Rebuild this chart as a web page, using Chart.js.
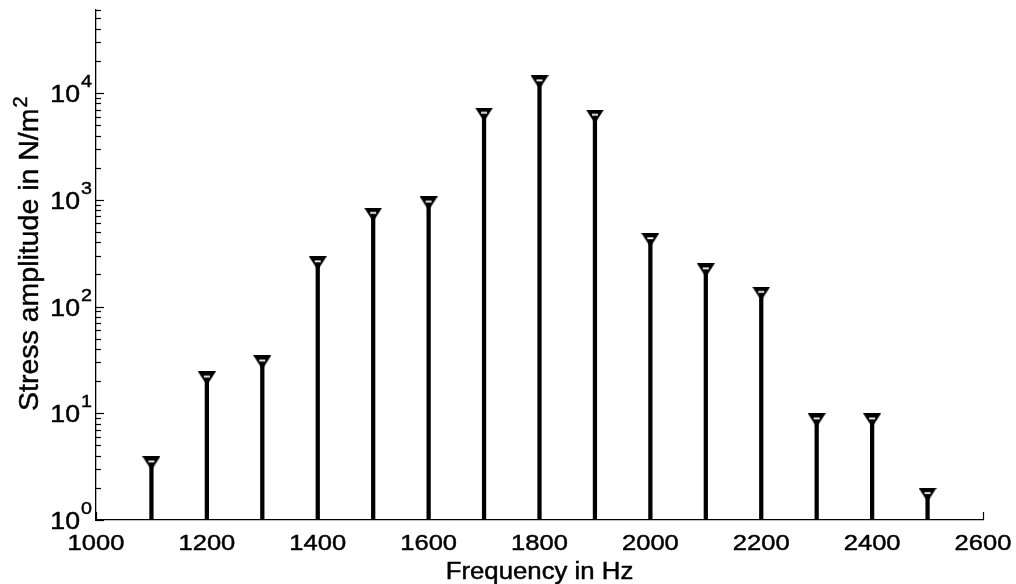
<!DOCTYPE html>
<html>
<head>
<meta charset="utf-8">
<title>Stress amplitude spectrum</title>
<script src="https://cdn.jsdelivr.net/npm/chart.js@4/dist/chart.umd.min.js"></script>
<style>
  html, body { margin: 0; padding: 0; background: #ffffff; }
  #wrap { width: 1016px; height: 584px; position: relative; }
</style>
</head>
<body>
<div id="wrap"><canvas id="chart" width="1016" height="584"></canvas></div>
<script>
// Stress amplitude (N/m^2) of each spectral line
const frequencies = [1100, 1200, 1300, 1400, 1500, 1600, 1700, 1800, 1900, 2000, 2100, 2200, 2300, 2400, 2500];
const amplitudes  = [3.4, 21.2, 30, 255, 726, 925, 6290, 12640, 6025, 420, 219, 132, 8.6, 8.6, 1.72];

// Axis ranges and tick values
const xMin = 1000, xMax = 2600;
const yMin = 1, yMax = 60000;
const xTicks = [1000, 1200, 1400, 1600, 1800, 2000, 2200, 2400, 2600];
const yExponents = [0, 1, 2, 3, 4];
const yMinorMultipliers = [2, 3, 4, 5, 6, 7, 8, 9];

const xTitle = 'Frequency in Hz';
const yTitle = 'Stress amplitude in N/m';
const yTitleSup = '2';

const FONT = '"Liberation Sans", Arial, Helvetica, sans-serif';
const STRETCH = 1.16;   // glyphs are drawn slightly wide

// Downward triangle marker with a small light slot near its top edge
function makeMarker() {
  const w = 18, h = 14;
  const c = document.createElement('canvas');
  c.width = w; c.height = h;
  const g = c.getContext('2d');
  g.fillStyle = '#000';
  g.beginPath();
  g.moveTo(0, 0); g.lineTo(w, 0); g.lineTo(w / 2, h); g.closePath();
  g.fill();
  g.fillStyle = '#fff';
  g.fillRect(6, 4.3, 6, 1.8);
  return c;
}

// Text slightly widened and thickened
function wideText(ctx, text, x, y, align, size, sx) {
  ctx.save();
  ctx.font = size + 'px ' + FONT;
  ctx.textBaseline = 'alphabetic';
  const w = ctx.measureText(text).width * sx;
  let left = x;
  if (align === 'center') left = x - w / 2;
  else if (align === 'right') left = x - w;
  ctx.translate(left, y);
  ctx.scale(sx, 1);
  ctx.textAlign = 'left';
  ctx.lineWidth = 0.45;
  ctx.fillText(text, 0, 0);
  ctx.strokeText(text, 0, 0);
  ctx.restore();
  return w;
}

// Inward tick marks, power-of-ten labels and axis titles
const axisDecor = {
  id: 'axisDecor',
  afterDraw(chart) {
    const ctx = chart.ctx;
    const xs = chart.scales.x, ys = chart.scales.y;
    const area = chart.chartArea;
    ctx.save();
    ctx.strokeStyle = '#000';
    ctx.fillStyle = '#000';

    // x ticks (pointing up into the plot) and labels
    xTicks.forEach(v => {
      const px = Math.round(xs.getPixelForValue(v)) + 0.5;
      ctx.lineWidth = 1.2;
      ctx.beginPath();
      ctx.moveTo(px, area.bottom);
      ctx.lineTo(px, area.bottom - 8);
      ctx.stroke();
      wideText(ctx, String(v), xs.getPixelForValue(v), 550, 'center', 22, STRETCH);
    });

    // y major ticks with 10^n labels
    yExponents.forEach(n => {
      const py = Math.round(ys.getPixelForValue(Math.pow(10, n))) + 0.5;
      ctx.lineWidth = 1.2;
      ctx.beginPath();
      ctx.moveTo(area.left, py);
      ctx.lineTo(area.left + 8, py);
      ctx.stroke();
      wideText(ctx, '10', 80, py + 8.5, 'right', 23, STRETCH);
      wideText(ctx, String(n), 81, py - 7, 'left', 17, STRETCH);
    });

    // y minor ticks
    ctx.lineWidth = 1.2;
    yExponents.forEach(n => {
      yMinorMultipliers.forEach(m => {
        const v = m * Math.pow(10, n);
        if (v > yMax) return;
        const py = Math.round(ys.getPixelForValue(v)) + 0.5;
        ctx.beginPath();
        ctx.moveTo(area.left, py);
        ctx.lineTo(area.left + 5, py);
        ctx.stroke();
      });
    });

    // x axis title
    wideText(ctx, xTitle, (area.left + area.right) / 2, 579, 'center', 23, 1.12);

    // y axis title, reading bottom to top
    ctx.save();
    ctx.translate(38, 411);
    ctx.rotate(-Math.PI / 2);
    ctx.font = '28.5px ' + FONT;
    ctx.textAlign = 'left';
    ctx.textBaseline = 'alphabetic';
    ctx.lineWidth = 0.45;
    ctx.fillText(yTitle, 0, 0);
    ctx.strokeText(yTitle, 0, 0);
    const tw = ctx.measureText(yTitle).width;
    ctx.font = '20px ' + FONT;
    ctx.fillText(yTitleSup, tw + 1, -11);
    ctx.strokeText(yTitleSup, tw + 1, -11);
    ctx.restore();

    ctx.restore();
  }
};

const stemData = frequencies.map((f, i) => ({ x: f, y: [yMin, amplitudes[i]] }));
const markerData = frequencies.map((f, i) => ({ x: f, y: amplitudes[i] }));

new Chart(document.getElementById('chart'), {
  type: 'bar',
  data: {
    datasets: [
      {
        type: 'bar',
        label: 'stems',
        data: stemData,
        backgroundColor: '#000',
        borderWidth: 0,
        barThickness: 3.6,
        order: 2
      },
      {
        type: 'scatter',
        label: 'amplitude',
        data: markerData,
        pointStyle: makeMarker(),
        pointRadius: 9,
        pointHoverRadius: 9,
        showLine: false,
        clip: false,
        order: 1
      }
    ]
  },
  options: {
    responsive: false,
    animation: false,
    devicePixelRatio: 1,
    layout: { padding: { left: 96, right: 33, top: 8, bottom: 64 } },
    plugins: {
      legend: { display: false },
      tooltip: { enabled: false },
      title: { display: false }
    },
    events: [],
    scales: {
      x: {
        type: 'linear',
        min: xMin,
        max: xMax,
        offset: false,
        ticks: { display: false },
        grid: { display: false, drawTicks: false },
        border: { display: true, color: '#000', width: 1.3 }
      },
      y: {
        type: 'logarithmic',
        min: yMin,
        max: yMax,
        ticks: { display: false },
        grid: { display: false, drawTicks: false },
        border: { display: true, color: '#000', width: 1.3 }
      }
    }
  },
  plugins: [axisDecor]
});
</script>
</body>
</html>
